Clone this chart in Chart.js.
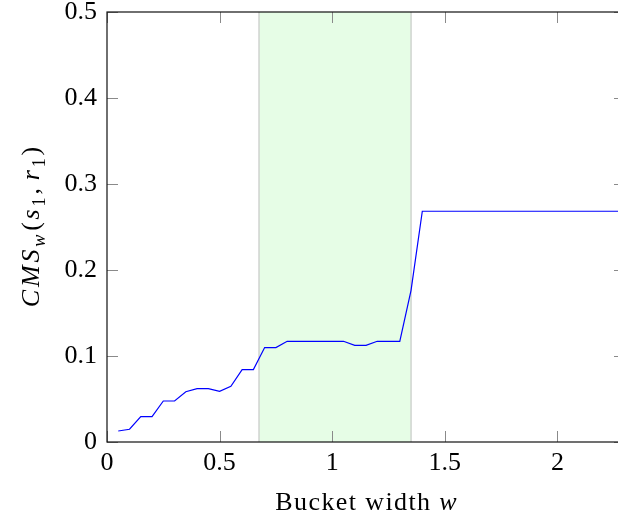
<!DOCTYPE html>
<html>
<head>
<meta charset="utf-8">
<script src="https://cdn.jsdelivr.net/npm/chart.js@4.4.1/dist/chart.umd.min.js"></script>
<style>
  html, body { margin: 0; padding: 0; background: #fff; overflow: hidden; }
  #wrap { width: 640px; height: 518px; }
</style>
</head>
<body>
<div id="wrap"><canvas id="chart" width="640" height="518"></canvas></div>
<script>
// Bucket widths w and the similarity CMS_w(s1, r1) measured at each width
const widths = [0.05, 0.10, 0.15, 0.20, 0.25, 0.30, 0.35, 0.40, 0.45, 0.50,
                0.55, 0.60, 0.65, 0.70, 0.75, 0.80, 0.85, 0.90, 0.95, 1.00,
                1.05, 1.10, 1.15, 1.20, 1.25, 1.30, 1.35, 1.40, 1.45, 1.50,
                1.55, 1.60, 1.65, 1.70, 1.75, 1.80, 1.85, 1.90, 1.95, 2.00,
                2.05, 2.10, 2.15, 2.20, 2.25, 2.30];
const cmsValues = [0.0128, 0.0148, 0.0295, 0.0295, 0.0477, 0.0477, 0.0584, 0.0621, 0.0621, 0.0590,
                   0.0648, 0.0842, 0.0842, 0.1098, 0.1098, 0.1171, 0.1171, 0.1171, 0.1171, 0.1171,
                   0.1171, 0.1124, 0.1124, 0.1171, 0.1171, 0.1171, 0.1764, 0.2683, 0.2683, 0.2683,
                   0.2683, 0.2683, 0.2683, 0.2683, 0.2683, 0.2683, 0.2683, 0.2683, 0.2683, 0.2683,
                   0.2683, 0.2683, 0.2683, 0.2683, 0.2683, 0.2683];

// Highlighted range of bucket widths
const bandRange = [0.675, 1.35];

// Axis ranges and tick labels
const xRange = [0, 2.3];
const yRange = [0, 0.5];
const xTicks = [0, 0.5, 1, 1.5, 2];
const yTicks = [0, 0.1, 0.2, 0.3, 0.4, 0.5];

const FONT_FAMILY = '"Liberation Serif", "DejaVu Serif", serif';
const FONT_SIZE = 26;

const points = widths.map((w, i) => ({ x: w, y: cmsValues[i] }));

// Shaded band behind the curve
const bandPlugin = {
  id: 'band',
  beforeDatasetsDraw(chart) {
    const { ctx, chartArea, scales } = chart;
    const x0 = scales.x.getPixelForValue(bandRange[0]);
    const x1 = scales.x.getPixelForValue(bandRange[1]);
    ctx.save();
    ctx.fillStyle = '#e6fde6';
    ctx.fillRect(x0, chartArea.top, x1 - x0, chartArea.bottom - chartArea.top);
    ctx.strokeStyle = '#cfd3cf';
    ctx.lineWidth = 1.5;
    ctx.beginPath();
    ctx.moveTo(x0, chartArea.top); ctx.lineTo(x0, chartArea.bottom);
    ctx.moveTo(x1, chartArea.top); ctx.lineTo(x1, chartArea.bottom);
    ctx.stroke();
    ctx.restore();
  }
};

// Box frame with inward tick marks on all four sides
const framePlugin = {
  id: 'frame',
  afterDatasetsDraw(chart) {
    const { ctx, chartArea, scales } = chart;
    const len = 11;
    ctx.save();
    ctx.strokeStyle = '#8a8a8a';
    ctx.lineWidth = 1;
    ctx.beginPath();
    xTicks.forEach(v => {
      const px = Math.round(scales.x.getPixelForValue(v)) + 0.5;
      ctx.moveTo(px, chartArea.bottom); ctx.lineTo(px, chartArea.bottom - len);
      ctx.moveTo(px, chartArea.top); ctx.lineTo(px, chartArea.top + len);
    });
    yTicks.forEach(v => {
      const py = Math.round(scales.y.getPixelForValue(v)) + 0.5;
      ctx.moveTo(chartArea.left, py); ctx.lineTo(chartArea.left + len, py);
      ctx.moveTo(chartArea.right, py); ctx.lineTo(chartArea.right - len, py);
    });
    ctx.stroke();
    ctx.strokeStyle = '#111';
    ctx.lineWidth = 1.2;
    ctx.strokeRect(chartArea.left, chartArea.top,
                   chartArea.right - chartArea.left, chartArea.bottom - chartArea.top);
    ctx.restore();
  }
};

// Text pieces (roman / italic / subscript) set character by character with extra tracking
function runFont(r, size) {
  const s = r.sub ? size * 0.7 : size;
  return (r.it ? 'italic ' : '') + s + 'px ' + FONT_FAMILY;
}
function measureRuns(ctx, runs, size, track) {
  let w = 0;
  runs.forEach(r => {
    ctx.font = runFont(r, size);
    for (const ch of r.t) w += ctx.measureText(ch).width + track;
    w += (r.gap || 0);
  });
  return w - track;
}
function drawRuns(ctx, runs, x, y, size, track) {
  let cx = x;
  runs.forEach(r => {
    ctx.font = runFont(r, size);
    const dy = r.sub ? size * 0.22 : 0;
    for (const ch of r.t) {
      ctx.fillText(ch, cx, y + dy);
      cx += ctx.measureText(ch).width + track;
    }
    cx += (r.gap || 0);
  });
}

const yTitleRuns = [
  { t: 'CMS', it: true },
  { t: 'w', it: true, sub: true, gap: 1 },
  { t: '(' },
  { t: 's', it: true },
  { t: '1', sub: true },
  { t: ',', gap: 5 },
  { t: 'r', it: true },
  { t: '1', sub: true },
  { t: ')' }
];
const xTitleRuns = [
  { t: 'Bucket width ' },
  { t: 'w', it: true }
];

const titlePlugin = {
  id: 'axisTitles',
  afterDraw(chart) {
    const { ctx, chartArea } = chart;
    ctx.save();
    ctx.fillStyle = '#000';
    ctx.textBaseline = 'alphabetic';
    ctx.textAlign = 'left';
    // x title, centred under the plot
    const xw = measureRuns(ctx, xTitleRuns, FONT_SIZE, 1.4);
    const xc = (chartArea.left + chartArea.right) / 2;
    drawRuns(ctx, xTitleRuns, xc - xw / 2, 510, FONT_SIZE, 1.4);
    // y title, rotated along the left side
    const yw = measureRuns(ctx, yTitleRuns, FONT_SIZE, 2.8);
    const yc = (chartArea.top + chartArea.bottom) / 2;
    ctx.translate(39, yc);
    ctx.rotate(-Math.PI / 2);
    drawRuns(ctx, yTitleRuns, -yw / 2, 0, FONT_SIZE, 2.8);
    ctx.restore();
  }
};

const fmt = v => String(Math.round(v * 10) / 10);

new Chart(document.getElementById('chart'), {
  type: 'line',
  data: {
    datasets: [{
      data: points,
      borderColor: '#0000ff',
      borderWidth: 1.2,
      pointRadius: 0,
      tension: 0,
      fill: false
    }]
  },
  options: {
    responsive: false,
    animation: false,
    events: [],
    layout: { padding: { top: 12, left: 0, right: 15, bottom: 0 } },
    plugins: { legend: { display: false }, tooltip: { enabled: false } },
    scales: {
      x: {
        type: 'linear',
        min: xRange[0],
        max: xRange[1],
        grid: { display: false, drawTicks: false },
        border: { display: false },
        afterBuildTicks: s => { s.ticks = xTicks.map(v => ({ value: v })); },
        ticks: {
          color: '#000',
          font: { family: FONT_FAMILY, size: FONT_SIZE },
          padding: 6,
          maxRotation: 0,
          autoSkip: false,
          callback: v => fmt(v)
        },
        afterFit: s => { s.height = 76; s.paddingLeft = 0; s.paddingRight = 0; }
      },
      y: {
        type: 'linear',
        min: yRange[0],
        max: yRange[1],
        grid: { display: false, drawTicks: false },
        border: { display: false },
        afterBuildTicks: s => { s.ticks = yTicks.map(v => ({ value: v })); },
        ticks: {
          color: '#000',
          font: { family: FONT_FAMILY, size: FONT_SIZE },
          padding: 10,
          autoSkip: false,
          callback: v => fmt(v)
        },
        afterFit: s => { s.width = 107; s.paddingTop = 0; s.paddingBottom = 0; }
      }
    }
  },
  plugins: [bandPlugin, framePlugin, titlePlugin]
});
</script>
</body>
</html>
